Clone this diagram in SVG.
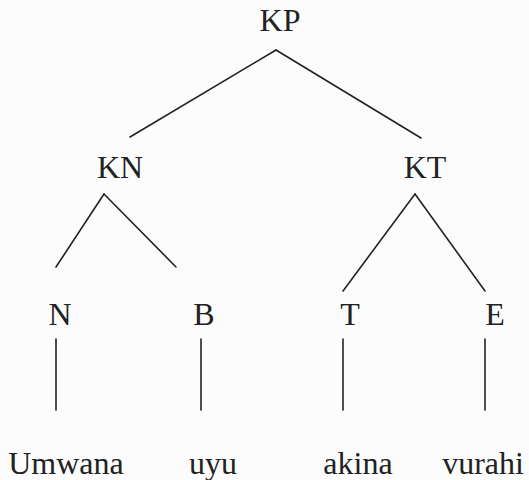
<svg xmlns="http://www.w3.org/2000/svg" width="529" height="480" viewBox="0 0 529 480" font-family="Liberation Serif">
<style>
.t{font-family:Liberation Serif,serif;font-size:32px;fill:#222;text-anchor:middle}
.e{stroke:#222;stroke-width:1.6;fill:none;stroke-linecap:round}
</style>
<rect width="529" height="480" fill="#fcfcfc"/>
<g id="connectors">
<line class="e" x1="276" y1="50" x2="130" y2="137"/>
<line class="e" x1="276" y1="50" x2="421" y2="138"/>
<line class="e" x1="104" y1="194" x2="56" y2="267"/>
<line class="e" x1="104" y1="194" x2="176" y2="267"/>
<line class="e" x1="415" y1="194" x2="343" y2="291"/>
<line class="e" x1="415" y1="194" x2="485" y2="291"/>
<line class="e" x1="56" y1="339" x2="56" y2="410"/>
<line class="e" x1="201" y1="339" x2="201" y2="410"/>
<line class="e" x1="343" y1="339" x2="343" y2="410"/>
<line class="e" x1="485" y1="339" x2="485" y2="410"/>
</g>
<g id="KP"><text class="t" x="280" y="31">KP</text></g>
<g id="KN"><text class="t" x="120" y="178">KN</text></g>
<g id="KT"><text class="t" x="425" y="178">KT</text></g>
<g id="N"><text class="t" x="60" y="325">N</text></g>
<g id="B"><text class="t" x="204" y="325">B</text></g>
<g id="T"><text class="t" x="350" y="325">T</text></g>
<g id="E"><text class="t" x="495" y="325">E</text></g>
<g id="Umwana"><text class="t" x="66" y="474">Umwana</text></g>
<g id="uyu"><text class="t" x="213" y="474">uyu</text></g>
<g id="akina"><text class="t" x="358" y="474">akina</text></g>
<g id="vurahi"><text class="t" x="483" y="474">vurahi</text></g>
</svg>
